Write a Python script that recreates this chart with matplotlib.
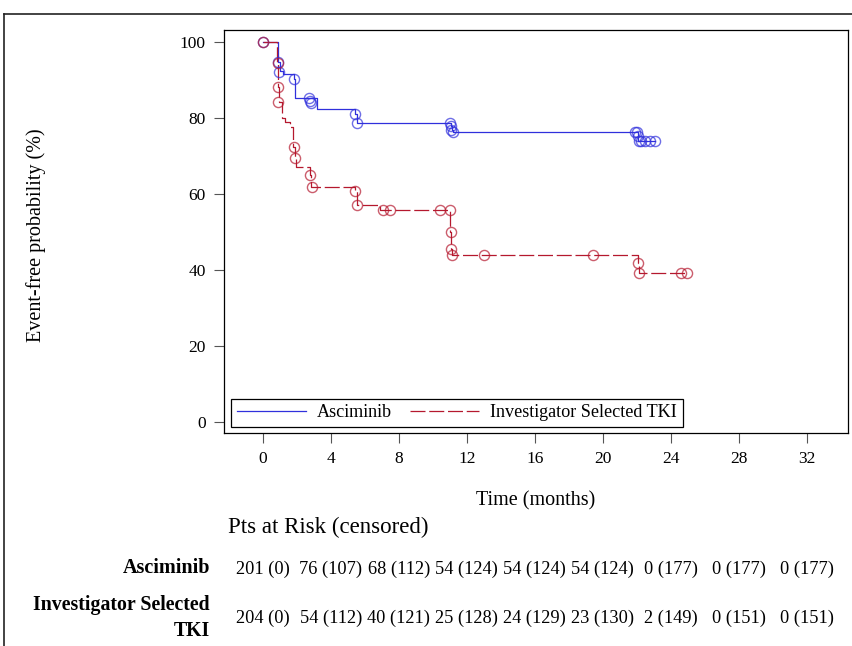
import numpy as np
import matplotlib
matplotlib.use("Agg")
import matplotlib.pyplot as plt
from matplotlib.lines import Line2D
from matplotlib.transforms import blended_transform_factory

plt.rcParams['font.family'] = ['Liberation Serif', 'DejaVu Serif']

# Asciminib KM curve (time in months, event-free %)
t_asc = [0, 0.88, 1.0, 1.2, 1.82, 1.92, 3.2, 5.42, 5.52, 11.05, 11.12, 11.2, 22.05, 23.1]
s_asc = [100, 94.8, 92.4, 91.5, 90.2, 85.2, 82.3, 81.0, 78.8, 77.8, 77.0, 76.3, 74.0, 74.0]
cens_t_asc = [0, 0.88, 0.93, 1.84, 2.72, 2.8, 2.86, 5.45, 5.55, 11.0, 11.05, 11.1, 11.2,
              21.9, 22.0, 22.1, 22.15, 22.25, 22.5, 22.8, 23.1]
cens_s_asc = [100, 94.8, 92.2, 90.2, 85.2, 84.5, 84.0, 81.0, 78.8, 78.8, 77.8, 77.0, 76.3,
              76.3, 76.3, 75.4, 74.0, 74.0, 74.0, 74.0, 74.0]

# Investigator selected TKI KM curve
t_tki = [0, 0.86, 0.9, 0.95, 1.12, 1.31, 1.6, 1.8, 1.88, 1.96, 2.78, 2.85, 5.45, 5.52,
         6.9, 11.02, 11.06, 11.12, 22.05, 22.15, 24.95]
s_tki = [100, 94.4, 88.2, 84.3, 80.0, 79.0, 77.7, 72.4, 69.4, 67.1, 65.0, 61.8, 60.8, 57.1,
         55.8, 49.9, 45.5, 43.9, 41.8, 39.1, 39.1]
cens_t_tki = [0, 0.88, 0.9, 0.88, 1.85, 1.9, 2.78, 2.9, 5.45, 5.55, 7.05, 7.5, 10.4, 11.0,
              11.05, 11.08, 11.15, 13.0, 19.4, 22.05, 22.15, 24.6, 24.95]
cens_s_tki = [100, 94.4, 88.2, 84.3, 72.4, 69.4, 65.0, 61.8, 60.8, 57.1, 55.8, 55.8, 55.8, 55.8,
              49.9, 45.5, 43.9, 43.9, 43.9, 41.8, 39.1, 39.1, 39.1]

# risk table
risk_times = [0, 4, 8, 12, 16, 20, 24, 28, 32]
risk_asc = ["201 (0)", "76 (107)", "68 (112)", "54 (124)", "54 (124)", "54 (124)",
            "0 (177)", "0 (177)", "0 (177)"]
risk_tki = ["204 (0)", "54 (112)", "40 (121)", "25 (128)", "24 (129)", "23 (130)",
            "2 (149)", "0 (151)", "0 (151)"]

blue = '#3030dc'
red = '#b5182e'

fig = plt.figure(figsize=(8.53, 6.46), dpi=100)
ax = fig.add_axes([224 / 853, 1 - 433 / 646, 624 / 853, 403 / 646])

ax.plot(t_asc, s_asc, drawstyle='steps-post', color=blue, lw=0.9)
ax.plot(t_tki, s_tki, drawstyle='steps-post', color=red, lw=0.9, dashes=(12, 3))
ax.plot(cens_t_asc, cens_s_asc, 'o', mfc='none', mec=blue, ms=7.3, mew=1.0, alpha=0.7)
ax.plot(cens_t_tki, cens_s_tki, 'o', mfc='none', mec=red, ms=7.3, mew=1.0, alpha=0.7)

ax.set_xlim(-2.28, 34.43)
ax.set_ylim(-2.9, 103.2)
ax.set_xticks(risk_times)
ax.set_yticks([0, 20, 40, 60, 80, 100])
ax.tick_params(direction='out', length=7, width=0.8, labelsize=12.5, pad=6, color='#555555')
for sp in ax.spines.values():
    sp.set_linewidth(0.9)
ax.set_xlabel('Time (months)', fontsize=14.5)
ax.xaxis.set_label_coords(0.5, -0.145)
ax.set_ylabel('Event-free probability (%)', fontsize=14.5)
ax.yaxis.set_label_coords(-0.285, 0.49)

handles = [Line2D([], [], color=blue, lw=0.9),
           Line2D([], [], color=red, lw=0.9, dashes=(12, 3))]
leg = ax.legend(handles, ['Asciminib', 'Investigator Selected TKI'], ncol=2,
                loc='lower left', bbox_to_anchor=(0.012, 0.016), fontsize=13.1,
                handlelength=3.8, handletextpad=0.6, columnspacing=1.0,
                fancybox=False, framealpha=1, edgecolor='black', borderpad=0.3,
                borderaxespad=0)
leg.get_frame().set_linewidth(0.9)

# risk table
tr = blended_transform_factory(ax.transData, fig.transFigure)
fig.text(228 / 853, 1 - 527 / 646, 'Pts at Risk (censored)', fontsize=16.5, va='center')
fig.text(210 / 853, 1 - 568 / 646, 'Asciminib', fontsize=14.5, fontweight='bold',
         ha='right', va='center')
fig.text(210 / 853, 1 - 605 / 646, 'Investigator Selected', fontsize=14.3,
         fontweight='bold', ha='right', va='center')
fig.text(210 / 853, 1 - 631 / 646, 'TKI', fontsize=14.3, fontweight='bold',
         ha='right', va='center')
for t, a, b in zip(risk_times, risk_asc, risk_tki):
    fig.text(t, 1 - 569 / 646, a, transform=tr, fontsize=13.2, ha='center', va='center')
    fig.text(t, 1 - 618 / 646, b, transform=tr, fontsize=13.2, ha='center', va='center')

# outer frame
fig.add_artist(Line2D([4 / 853, 1], [1 - 14 / 646, 1 - 14 / 646], color='#222222', lw=1.2))
fig.add_artist(Line2D([4 / 853, 4 / 853], [0, 1 - 14 / 646], color='#222222', lw=1.2))

fig.savefig('out.png', dpi=100)
